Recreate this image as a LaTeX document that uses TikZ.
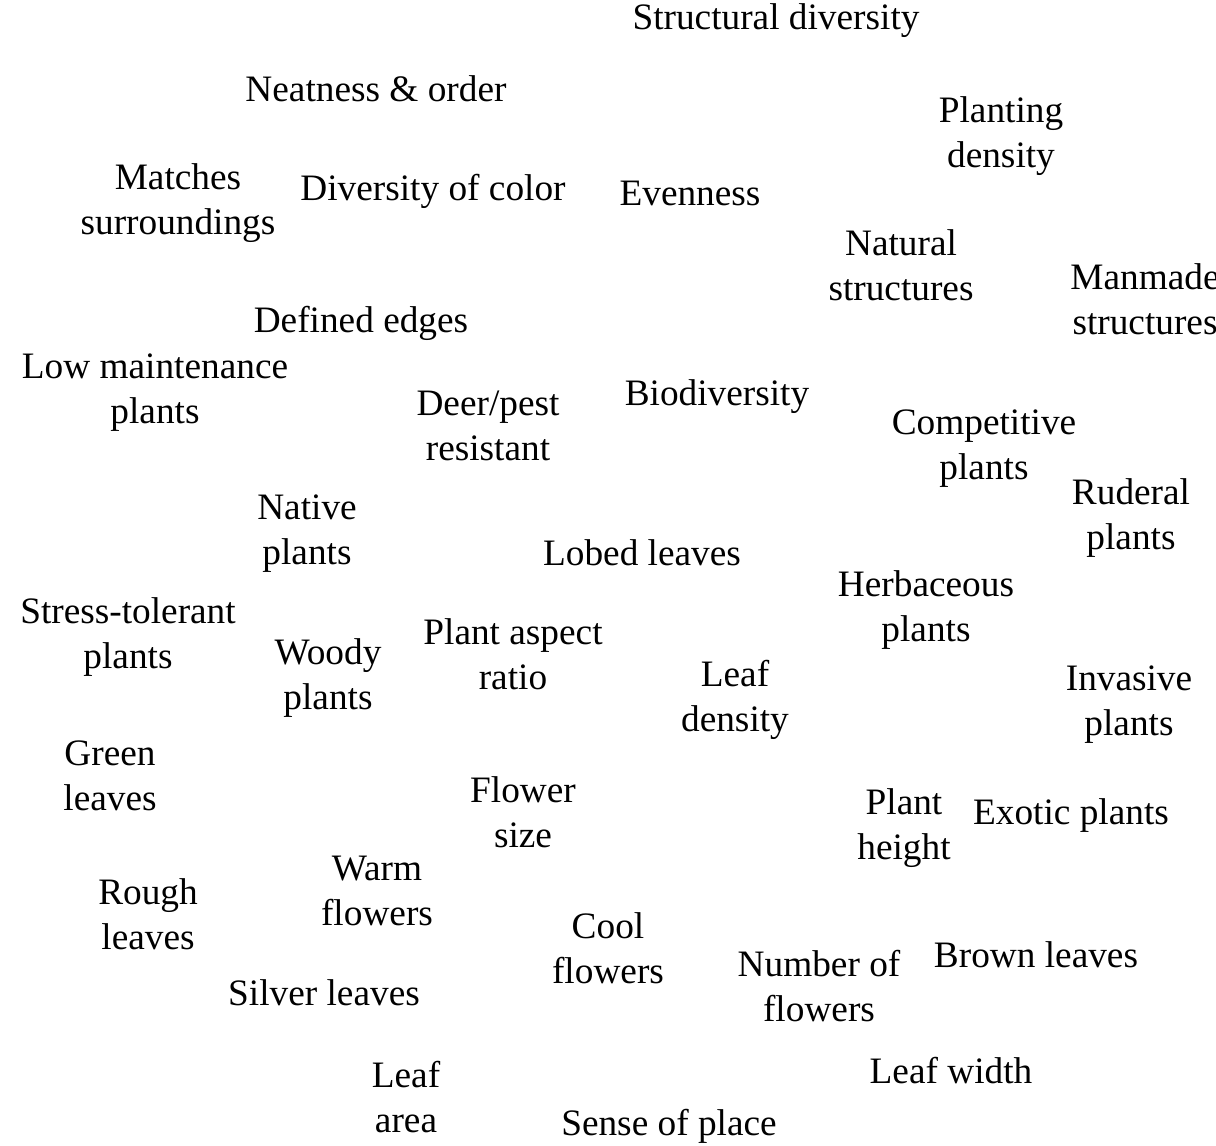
\documentclass[tikz,border=0pt]{standalone}
\usepackage{fontspec}
\setmainfont{Liberation Serif}
\usetikzlibrary{positioning}

\begin{document}
\begin{tikzpicture}[x=0.5pt,y=-0.5pt,
  lbl/.style={align=center,inner sep=0pt,yshift=-1.5pt,font=\fontsize{18.65}{22.5}\selectfont}]
  % page frame, right edge cuts the text
  \clip (0,0) rectangle (1216,1146);
  \useasboundingbox (0,0) rectangle (1216,1146);
  % top rows
  \node[lbl] (strdiv) at (776,18) {Structural diversity};
  \node[lbl] (neat) at (376,86) {Neatness \& order};
  \node[lbl] (plantdens) at (1001,133) {Planting\\density};
  \node[lbl] (matches) at (178,200) {Matches\\surroundings};
  \node[lbl] (divcol) at (433,188) {Diversity of color};
  \node[lbl] (even) at (690,190) {Evenness};
  \node[lbl] (natstr) at (901,262) {Natural\\structures};
  \node[lbl] (manstr) at (1145,296) {Manmade\\structures};
  \node[lbl] (edges) at (361,320) {Defined edges};
  % middle rows
  \node[lbl] (lowmaint) at (155,390) {Low maintenance\\plants};
  \node[lbl] (deer) at (488,423) {Deer/pest\\resistant};
  \node[lbl] (biodiv) at (717,394) {Biodiversity};
  \node[lbl] (compet) at (984,446) {Competitive\\plants};
  \node[lbl] (ruderal) at (1131,515) {Ruderal\\plants};
  \node[lbl] (native) at (307,531) {Native\\plants};
  \node[lbl] (lobed) at (642,550) {Lobed leaves};
  \node[lbl] (herb) at (926,607) {Herbaceous\\plants};
  \node[lbl] (stress) at (128,634) {Stress-tolerant\\plants};
  \node[lbl] (woody) at (328,675) {Woody\\plants};
  \node[lbl] (aspect) at (513,651) {Plant aspect\\ratio};
  \node[lbl] (leafdens) at (735,697) {Leaf\\density};
  \node[lbl] (invasive) at (1129,702) {Invasive\\plants};
  % lower rows
  \node[lbl] (green) at (110,773) {Green\\leaves};
  \node[lbl] (flsize) at (523,809) {Flower\\size};
  \node[lbl] (height) at (904,825) {Plant\\height};
  \node[lbl] (exotic) at (1071,813) {Exotic plants};
  \node[lbl] (warm) at (377,888) {Warm\\flowers};
  \node[lbl] (rough) at (148,911) {Rough\\leaves};
  \node[lbl] (cool) at (608,945) {Cool\\flowers};
  \node[lbl] (numfl) at (819,983) {Number of\\flowers};
  \node[lbl] (brown) at (1036,952) {Brown leaves};
  \node[lbl] (silver) at (324,990) {Silver leaves};
  \node[lbl] (leafarea) at (406,1094) {Leaf\\area};
  \node[lbl] (leafwid) at (951,1068) {Leaf width};
  \node[lbl] (sense) at (669,1123) {Sense of place};
\end{tikzpicture}
\end{document}
